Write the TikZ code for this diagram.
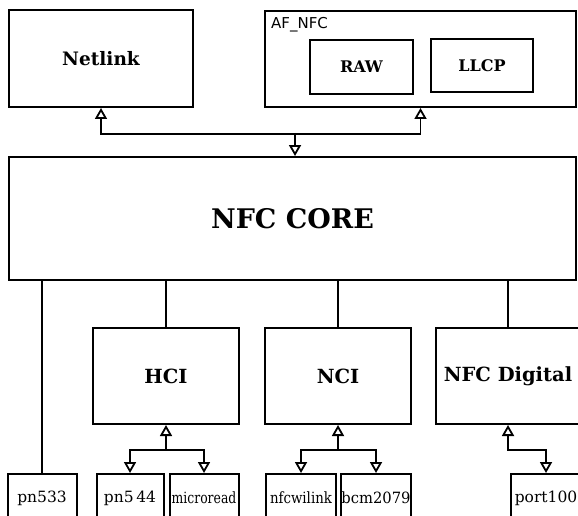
\documentclass[tikz,border=0pt]{standalone}
\usepackage{fontspec}
\setmainfont{DejaVu Serif}
\newfontfamily\labelsans{DejaVu Sans}
\usepackage{graphicx}
\usepackage{tikz}
\usetikzlibrary{positioning,arrows.meta}
\tikzset{hollow/.tip={Triangle[open, length=11pt, width=12pt]}}

\begin{document}
\begin{tikzpicture}[x=1pt, y=-1pt,
    box/.style={draw, line width=2pt, inner sep=0pt, font=\bfseries},
    drv/.style={draw, line width=2pt, inner sep=0pt, minimum width=69pt,
      minimum height=48pt, font=\fontsize{15.5pt}{17pt}\selectfont},
    link/.style={line width=1.8pt}]
  \clip (0,0) rectangle (578,516);
  \node[box, minimum width=184pt, minimum height=97pt, font=\bfseries\fontsize{18.5pt}{20pt}\selectfont]
    (netlink) at (101,58.5) {Netlink};
  \node[box, minimum width=311pt, minimum height=96pt] (afnfc) at (420.5,59) {};
  \node[anchor=west, font=\labelsans\fontsize{15pt}{17pt}\selectfont, inner sep=0pt]
    (afnfclabel) at (271,25) {AF\_NFC};
  \node[box, minimum width=103pt, minimum height=54pt, font=\bfseries\fontsize{16pt}{18pt}\selectfont]
    (raw) at (361.5,67) {RAW};
  \node[box, minimum width=102pt, minimum height=53pt, font=\bfseries\fontsize{16pt}{18pt}\selectfont]
    (llcp) at (482,65.5) {LLCP};
  \node[box, minimum width=567pt, minimum height=123pt, font=\bfseries\fontsize{27pt}{30pt}\selectfont]
    (core) at (292.5,218.5) {NFC CORE};

  \node[box, minimum width=146pt, minimum height=96pt, font=\bfseries\fontsize{19.5pt}{21pt}\selectfont]
    (hci) at (166,376) {HCI};
  \node[box, minimum width=146pt, minimum height=96pt, font=\bfseries\fontsize{19.5pt}{21pt}\selectfont]
    (nci) at (338,376) {NCI};
  \node[box, minimum width=145pt, minimum height=96pt, font=\bfseries\fontsize{19.5pt}{21pt}\selectfont]
    (digital) at (508,376) {NFC Digital};

  \node[drv] (pn533) at (42,498) {pn533};
  \node[drv, minimum width=67pt] (pn544) at (130,498) {pn5\,44};
  \node[drv] (microread) at (204,498) {\scalebox{0.8}[1]{microread}};
  \node[drv, minimum width=70pt] (nfcwilink) at (301,498) {\scalebox{0.86}[1]{nfcwilink}};
  \node[drv] (bcm2079) at (376,498) {\scalebox{0.95}[1]{bcm2079}};
  \node[drv, minimum width=70pt] (port100) at (546,498) {port100};

  \draw[link, hollow-hollow] (netlink.south) -- ++(0,26) -| (afnfc.south);
  \coordinate (bus) at (295,133);
  \draw[link, -hollow] (bus) -- (bus |- core.north);

  \foreach \n in {pn533,hci,nci,digital}
    \draw[link] (core.south -| \n.north) -- (\n.north);

  \draw[link, hollow-] (hci.south) -- ++(0,25) coordinate (hcibus);
  \draw[link, -hollow] (hcibus) -| (pn544.north);
  \draw[link, -hollow] (hcibus) -| (microread.north);
  \draw[link, hollow-] (nci.south) -- ++(0,25) coordinate (ncibus);
  \draw[link, -hollow] (ncibus) -| (nfcwilink.north);
  \draw[link, -hollow] (ncibus) -| (bcm2079.north);
  \draw[link, hollow-hollow] (digital.south) -- ++(0,25) -| (port100.north);
\end{tikzpicture}
\end{document}
